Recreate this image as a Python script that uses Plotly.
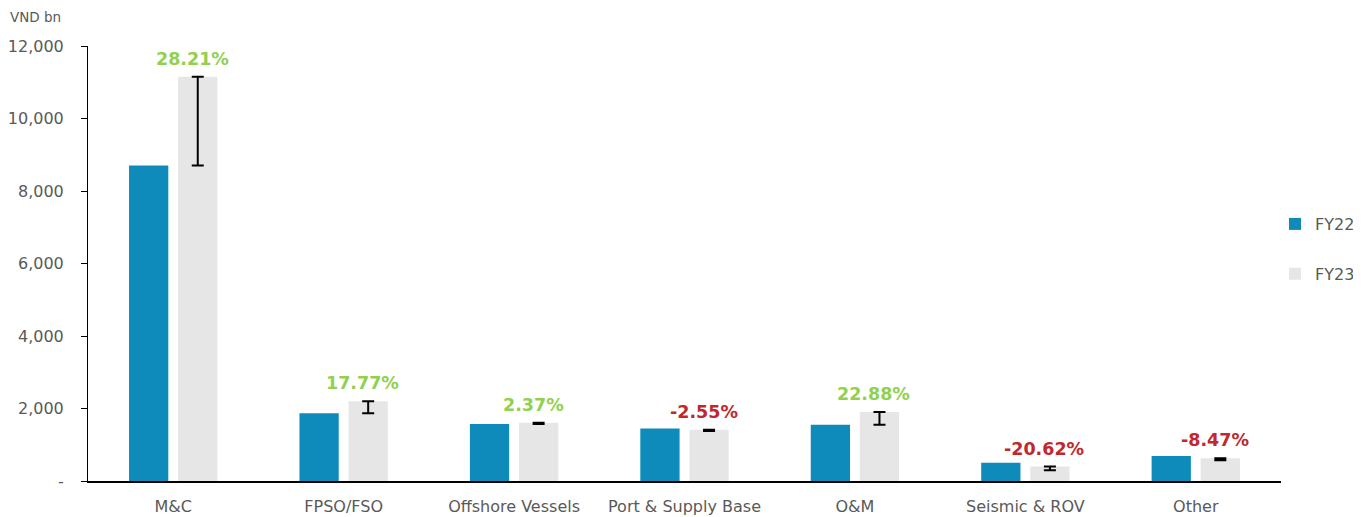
import plotly.graph_objects as go

categories = ["M&C", "FPSO/FSO", "Offshore Vessels", "Port & Supply Base", "O&M", "Seismic & ROV", "Other"]
fy22 = [8700, 1870, 1570, 1450, 1550, 500, 690]
fy23 = [11154, 2202, 1607, 1413, 1905, 397, 631]
growth_labels = ["28.21%", "17.77%", "2.37%", "-2.55%", "22.88%", "-20.62%", "-8.47%"]
y_tickvals = [0, 2000, 4000, 6000, 8000, 10000, 12000]
y_ticktext = ["-", "2,000", "4,000", "6,000", "8,000", "10,000", "12,000"]

diffs = [abs(b - a) for a, b in zip(fy22, fy23)]
FONT = "DejaVu Sans"

fig = go.Figure()
fig.add_trace(go.Bar(name="FY22", x=categories, y=fy22, marker_color="#0E8BBB",
                     marker_line_width=0, legendgroup="a"))
fig.add_trace(go.Bar(name="FY23", x=categories, y=fy23, marker_color="#E6E6E6",
                     marker_line_width=0, legendgroup="b",
                     error_y=dict(type="data", symmetric=False, array=[0]*len(fy23),
                                  arrayminus=diffs, color="black", thickness=2, width=6)))

for c, v, t in zip(categories, fy23, growth_labels):
    col = "#C0282D" if t.startswith("-") else "#92D050"
    fig.add_annotation(x=c, y=v, text=f"<b>{t}</b>", showarrow=False, xshift=19,
                       yshift=18, font=dict(family=FONT, size=17.5, color=col),
                       yanchor="middle")

fig.add_annotation(text="VND bn", xref="paper", yref="paper", x=-80/1193, y=1 + 29/435,
                   xanchor="left", yanchor="middle", showarrow=False,
                   font=dict(family=FONT, size=13.5, color="#595959"))

fig.update_layout(
    width=1361, height=517,
    margin=dict(l=80, r=88, t=38, b=44, autoexpand=False),
    paper_bgcolor="white", plot_bgcolor="white",
    barmode="group", bargap=0.424, bargroupgap=0.2,
    font=dict(family=FONT, size=16, color="#595959"),
    showlegend=True,
    legend=dict(xref="container", yref="container", x=1267/1361, y=1 - 241/517,
                xanchor="left", yanchor="middle",
                font=dict(family=FONT, size=16, color="#595959"),
                itemwidth=30, tracegroupgap=26, bgcolor="rgba(0,0,0,0)"),
    xaxis=dict(showline=True, linecolor="black", linewidth=1.5, ticks="",
               ticklabelstandoff=10, automargin=False,
               tickfont=dict(family=FONT, size=16, color="#595959")),
    yaxis=dict(range=[0, 12000], tickvals=y_tickvals, ticktext=y_ticktext,
               showline=True, linecolor="black", linewidth=1, ticks="outside",
               ticklen=6, tickcolor="black", showgrid=False, zeroline=False,
               ticklabelstandoff=14, automargin=False,
               tickfont=dict(family=FONT, size=16, color="#595959")),
)

fig.write_html("out.html")
